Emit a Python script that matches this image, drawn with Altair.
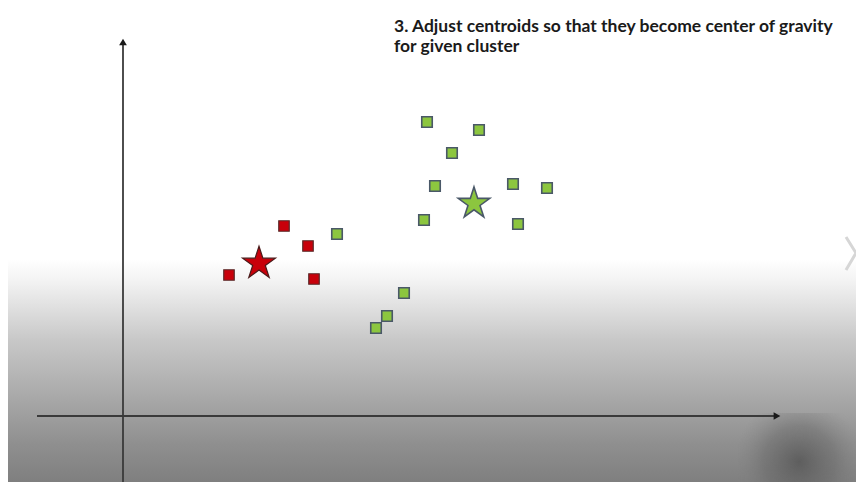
import altair as alt
import pandas as pd

# ---- data (abstract units; origin at axes crossing) ----
red_x = [10.6, 16.1, 18.5, 19.1]
red_y = [14.1, 19.0, 17.0, 13.7]
red_star_x = [13.6]
red_star_y = [15.25]

green_x = [21.4, 30.4, 35.6, 32.9, 31.2, 39.0, 42.4, 30.1, 39.5, 28.1, 26.4, 25.3]
green_y = [18.2, 29.4, 28.6, 26.3, 23.0, 23.2, 22.8, 19.6, 19.2, 12.3, 10.0, 8.8]
green_star_x = [35.1]
green_star_y = [21.25]

title_lines = ["3. Adjust centroids so that they become center of gravity",
               "for given cluster"]

# axis extents (data units)
x_axis_from, x_axis_to = -8.6, 65.4
y_axis_from, y_axis_to = -6.7, 37.4

# slide navigation chevron
chev_x = [72.3, 73.3, 72.3]
chev_y = [17.9, 16.3, 14.6]

W, H = 848, 474
XD = [-11.5, 73.3]
YD = [-6.6, 40.8]
xs = alt.Scale(domain=XD, nice=False, zero=False)
ys = alt.Scale(domain=YD, nice=False, zero=False)
X = lambda f: alt.X(f, type="quantitative", scale=xs, axis=None)
Y = lambda f: alt.Y(f, type="quantitative", scale=ys, axis=None)

STAR = ("M0,-1L0.2245,-0.309L0.951,-0.309L0.3633,0.118L0.588,0.809L0,0.382"
        "L-0.588,0.809L-0.3633,0.118L-0.951,-0.309L-0.2245,-0.309Z")

frame = pd.DataFrame({"x": [XD[0]], "x2": [XD[1]], "y": [YD[0]], "y2": [YD[1]]})

bg = alt.Chart(frame).mark_rect(
    color=alt.Gradient(
        gradient="linear", x1=0, x2=0, y1=0, y2=1,
        stops=[
            alt.GradientStop(color="#ffffff", offset=0),
            alt.GradientStop(color="#ffffff", offset=0.53),
            alt.GradientStop(color="#f3f3f3", offset=0.575),
            alt.GradientStop(color="#e2e2e2", offset=0.625),
            alt.GradientStop(color="#c8c8c8", offset=0.70),
            alt.GradientStop(color="#a9a9a9", offset=0.82),
            alt.GradientStop(color="#8f8f8f", offset=0.92),
            alt.GradientStop(color="#7f7f7f", offset=1.0),
        ],
    )
).encode(x=X("x"), x2="x2", y=Y("y2"), y2="y")

blur_df = pd.DataFrame({"x": [61.5], "x2": [XD[1]], "y": [YD[0]], "y2": [0.3]})
blur = alt.Chart(blur_df).mark_rect(
    color=alt.Gradient(
        gradient="radial", x1=0.52, y1=0.62, r1=0, x2=0.52, y2=0.62, r2=0.55,
        stops=[
            alt.GradientStop(color="rgba(80,80,80,0.75)", offset=0),
            alt.GradientStop(color="rgba(100,100,100,0.45)", offset=0.55),
            alt.GradientStop(color="rgba(130,130,130,0)", offset=1.0),
        ],
    )
).encode(x=X("x"), x2="x2", y=Y("y2"), y2="y")

axes_df = pd.DataFrame({
    "x": [x_axis_from, 0.0], "x2": [x_axis_to, 0.0],
    "y": [0.0, y_axis_from], "y2": [0.0, y_axis_to],
})
axes = alt.Chart(axes_df).mark_rule(color="#3a3a3a", strokeWidth=1.8).encode(
    x=X("x"), x2="x2", y=Y("y"), y2="y2")

arr_r = alt.Chart(pd.DataFrame({"x": [x_axis_to], "y": [0.0]})).mark_point(
    shape="triangle-right", filled=True, color="#1a1a1a", opacity=1, size=60).encode(
    x=X("x"), y=Y("y"))
arr_u = alt.Chart(pd.DataFrame({"x": [0.0], "y": [y_axis_to]})).mark_point(
    shape="triangle-up", filled=True, color="#1a1a1a", opacity=1, size=60).encode(
    x=X("x"), y=Y("y"))

red_df = pd.DataFrame({"x": red_x, "y": red_y})
green_df = pd.DataFrame({"x": green_x, "y": green_y})

red_pts = alt.Chart(red_df).mark_point(shape="square", filled=True, fill="#c8000a",
                                       stroke="#5a2a2a", strokeWidth=1.2, size=110, opacity=1).encode(
    x=X("x"), y=Y("y"))
green_pts = alt.Chart(green_df).mark_point(shape="square", filled=True, fill="#8cc63f",
                                           stroke="#4a5868", strokeWidth=1.6, size=110, opacity=1).encode(
    x=X("x"), y=Y("y"))

red_star = alt.Chart(pd.DataFrame({"x": red_star_x, "y": red_star_y})).mark_point(
    shape=STAR, filled=True, fill="#c8000a", stroke="#4a1a1a", strokeWidth=1.2,
    size=1200, opacity=1).encode(x=X("x"), y=Y("y"))
green_star = alt.Chart(pd.DataFrame({"x": green_star_x, "y": green_star_y})).mark_point(
    shape=STAR, filled=True, fill="#8cc63f", stroke="#4a5868", strokeWidth=1.6,
    size=1100, opacity=1).encode(x=X("x"), y=Y("y"))

title_df = pd.DataFrame({"t": title_lines, "x": [27.1, 27.1], "y": [38.9, 36.9]})
title = alt.Chart(title_df).mark_text(
    align="left", baseline="middle", font="Lato", fontWeight="bold", fontSize=17.5,
    color="#1a1a1a").encode(x=X("x"), y=Y("y"), text="t:N")

chev = alt.Chart(pd.DataFrame({"x": chev_x, "y": chev_y, "o": [0, 1, 2]})).mark_line(
    color="#d6d6d6", strokeWidth=3).encode(x=X("x"), y=Y("y"), order="o:Q")

chart = alt.layer(bg, blur, axes, arr_r, arr_u, red_pts, green_pts, red_star, green_star,
                  title, chev).properties(
    width=W, height=H, autosize=alt.AutoSizeParams(type="none"), padding=0,
    background="#ffffff"
).configure_view(stroke=None)

chart.save("out.html", embed_options={"renderer": "svg", "actions": False})
